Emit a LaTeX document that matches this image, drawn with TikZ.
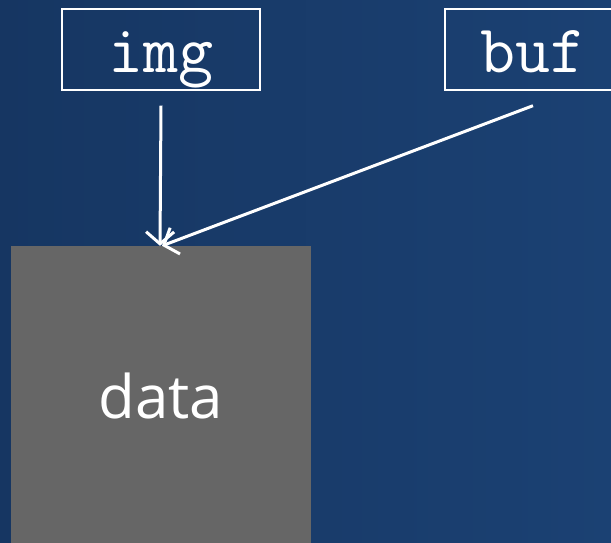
\documentclass[tikz,border=0pt]{standalone}
\usepackage{fontspec}
\setmainfont{Open Sans}
\usetikzlibrary{arrows.meta,positioning}

\begin{document}
\begin{tikzpicture}[x=1pt,y=-1pt,
  ptr/.style={draw=white,line width=1.4pt,minimum height=81pt,text height=45pt,text depth=0pt,text=white,font=\ttfamily\fontsize{68}{68}\selectfont},
  block/.style={fill=black!60,minimum width=300pt,minimum height=300pt,text=white,font=\fontsize{60}{60}\selectfont},
  link/.style={draw=white,line width=3pt,-{Straight Barb[length=12pt,width=28pt,line width=3pt]}}]
\useasboundingbox (0,0) rectangle (611,542);
\shade[left color={rgb,255:red,22;green,54;blue,98},right color={rgb,255:red,27;green,65;blue,115}] (0,0) rectangle (611,542);
\node[ptr,minimum width=198pt] (img) at (161,49.5) {img};
\node[ptr,minimum width=176pt] (buf) at (533,49.5) {buf};
\node[block] (data) at (161,396) {data};
\draw[link] ([yshift=-15pt]img.south) -- ([xshift=-1pt]data.north);
\draw[link] ([yshift=-15pt]buf.south) -- ([xshift=1pt]data.north);
\end{tikzpicture}
\end{document}
